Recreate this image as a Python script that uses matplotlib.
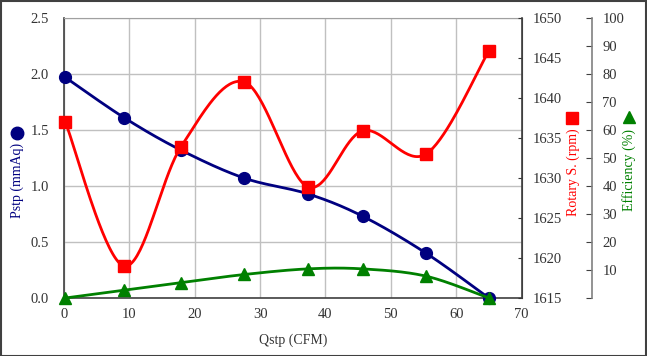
import numpy as np
import matplotlib
matplotlib.use('Agg')
import matplotlib.pyplot as plt
from matplotlib.patches import Rectangle
from matplotlib.lines import Line2D

# ---- data ----
qstp = [0.2, 9.2, 17.9, 27.6, 37.3, 45.7, 55.4, 65.0]
pstp = [1.97, 1.61, 1.32, 1.07, 0.93, 0.73, 0.40, 0.00]
rpm = [1637.0, 1619.0, 1633.9, 1642.0, 1628.9, 1635.9, 1633.0, 1645.9]
eff = [0.0, 2.8, 5.5, 8.4, 10.4, 10.4, 7.8, 0.0]

x_ticks = [0, 10, 20, 30, 40, 50, 60, 70]
p_ticks = [0.0, 0.5, 1.0, 1.5, 2.0, 2.5]
r_ticks = [1615, 1620, 1625, 1630, 1635, 1640, 1645, 1650]
e_ticks = [0, 10, 20, 30, 40, 50, 60, 70, 80, 90, 100]

plt.rcParams['font.family'] = ['Liberation Serif', 'DejaVu Serif']
FS = 10
TFS = 10.5
TXT = '#333333'

W, H = 647, 356
fig = plt.figure(figsize=(W / 100, H / 100), dpi=100)
L, R, B, T = 64, 521.5, 298, 18
ax = fig.add_axes([L / W, (H - B) / H, (R - L) / W, (B - T) / H])
wpx, hpx = R - L, B - T


def smooth(xs, ys, xlim, ylim, n=40):
    X = (np.asarray(xs, float) - xlim[0]) / (xlim[1] - xlim[0]) * wpx
    Y = (np.asarray(ys, float) - ylim[0]) / (ylim[1] - ylim[0]) * hpx
    P = np.column_stack([X, Y])
    out = [P[0]]
    t = np.linspace(0, 1, n)[1:, None]
    for i in range(len(P) - 1):
        p0 = P[i - 1] if i > 0 else P[i]
        p1, p2 = P[i], P[i + 1]
        p3 = P[i + 2] if i + 2 < len(P) else P[i + 1]
        c1 = p1 + (p2 - p0) / 6
        c2 = p2 - (p3 - p1) / 6
        seg = (1 - t) ** 3 * p1 + 3 * (1 - t) ** 2 * t * c1 + 3 * (1 - t) * t ** 2 * c2 + t ** 3 * p2
        out.extend(seg)
    out = np.array(out)
    return (xlim[0] + out[:, 0] / wpx * (xlim[1] - xlim[0]),
            ylim[0] + out[:, 1] / hpx * (ylim[1] - ylim[0]))


xlim = (0, 70)
plim = (0, 2.5)
rlim = (1615, 1650)
elim = (0, 100)

NAVY, RED, GREEN = '#000080', '#ff0000', '#008000'
LW = 2.0

# --- primary axis (Pstp) ---
ax.set_xlim(*xlim)
ax.set_ylim(*plim)
ax.set_xticks(x_ticks)
ax.set_yticks(p_ticks)
ax.set_yticklabels([f'{v:.1f}' for v in p_ticks])
ax.grid(True, color='#c0c0c0', lw=1.0)
ax.set_axisbelow(True)
ax.tick_params(axis='both', length=0, labelsize=TFS, colors=TXT)
ax.tick_params(axis='x', pad=7.5)
ax.tick_params(axis='y', pad=11)
for s in ['left', 'bottom']:
    ax.spines[s].set_color('#404040')
    ax.spines[s].set_linewidth(1.2)
ax.spines['top'].set_color('#a0a0a0')
ax.spines['right'].set_color('#404040')
ax.set_xlabel('Qstp (CFM)', fontsize=FS, color=TXT, labelpad=8.5)

sx, sy = smooth(qstp, pstp, xlim, plim)
ax.plot(sx, sy, color=NAVY, lw=LW, clip_on=False, zorder=3)
ax.plot(qstp, pstp, ls='none', marker='o', ms=8.5, color=NAVY, clip_on=False, zorder=4)

# --- rotary speed axis ---
ax2 = ax.twinx()
ax2.set_ylim(*rlim)
ax2.set_yticks(r_ticks)
ax2.tick_params(axis='y', direction='in', length=3, labelsize=TFS, colors=TXT, pad=8)
for s in ['left', 'top', 'bottom']:
    ax2.spines[s].set_visible(False)
ax2.spines['right'].set_color('#404040')
ax2.spines['right'].set_linewidth(1.2)
sx, sy = smooth(qstp, rpm, xlim, rlim)
ax2.plot(sx, sy, color=RED, lw=LW, clip_on=False, zorder=3)
ax2.plot(qstp, rpm, ls='none', marker='s', ms=8.5, color=RED, clip_on=False, zorder=4)

# --- efficiency axis ---
ax3 = ax.twinx()
ax3.set_ylim(*elim)
ax3.spines['right'].set_position(('axes', (592 - L) / (R - L)))
for s in ['left', 'top', 'bottom']:
    ax3.spines[s].set_visible(False)
ax3.spines['right'].set_color('#808080')
ax3.spines['right'].set_linewidth(1.2)
ax3.set_yticks(e_ticks)
ax3.set_yticklabels(['' if v == 0 else str(v) for v in e_ticks])
ax3.tick_params(axis='y', direction='in', length=4, labelsize=TFS, colors=TXT, pad=7.5)
ax3.tick_params(axis='y', color='#404040')
sx, sy = smooth(qstp, eff, xlim, elim)
ax3.plot(sx, sy, color=GREEN, lw=LW, clip_on=False, zorder=3)
ax3.plot(qstp, eff, ls='none', marker='^', ms=8.5, color=GREEN, clip_on=False, zorder=4)

# --- axis titles with symbols ---
fig.text(17 / W, (H - 180) / H, 'Pstp (mmAq)', rotation=90, color=NAVY,
         fontsize=FS, ha='center', va='center')
fig.add_artist(Line2D([17 / W], [(H - 133) / H], marker='o', ms=9, color=NAVY,
                      ls='none', transform=fig.transFigure))
fig.text(573 / W, (H - 172) / H, 'Rotary S. (rpm)', rotation=90, color=RED,
         fontsize=FS, ha='center', va='center')
fig.add_artist(Line2D([572 / W], [(H - 118) / H], marker='s', ms=9, color=RED,
                      ls='none', transform=fig.transFigure))
fig.text(629 / W, (H - 170) / H, 'Efficiency (%)', rotation=90, color=GREEN,
         fontsize=FS, ha='center', va='center')
fig.add_artist(Line2D([629 / W], [(H - 117) / H], marker='^', ms=9, color=GREEN,
                      ls='none', transform=fig.transFigure))

# figure border
fig.add_artist(Rectangle((0.5 / W, 0.5 / H), 1 - 1.5 / W, 1 - 1.5 / H, fill=False,
                         edgecolor='#404040', lw=1.5, transform=fig.transFigure))

fig.savefig('out.png', dpi=100)
